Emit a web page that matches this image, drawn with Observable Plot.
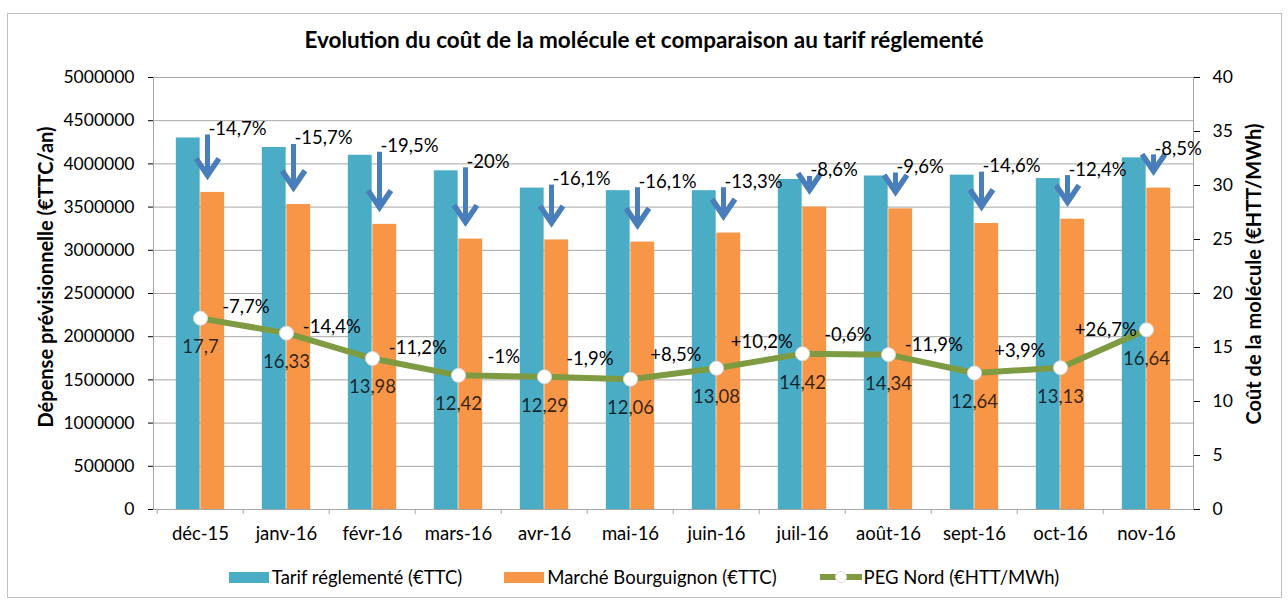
<!DOCTYPE html>
<html>
<head>
<meta charset="utf-8">
<script src="https://cdn.jsdelivr.net/npm/d3@7"></script>
<script src="https://cdn.jsdelivr.net/npm/@observablehq/plot@0.6"></script>
<style>
  html, body { margin: 0; padding: 0; background: #fff; }
  body { width: 1288px; height: 606px; position: relative; overflow: hidden; font-family: Lato, "Open Sans", sans-serif; color: #000; }
  #border { position: absolute; left: 7px; top: 13px; width: 1273px; height: 583px; border: 1px solid #c0c0c0; }
  #title { position: absolute; top: 26px; left: 0; width: 1288px; text-align: center; font-weight: bold; font-size: 22.5px; }
  #chart { position: absolute; left: 0; top: 60px; }
  .ytitle { position: absolute; font-weight: bold; font-size: 20px; white-space: nowrap; transform: translate(-50%, -50%) rotate(-90deg); }
  #legend { position: absolute; top: 566px; left: 0; width: 1288px; display: flex; justify-content: center; align-items: center; font-size: 18.5px; }
  .item { display: flex; align-items: center; margin: 0 21px; }
  .sw { width: 40px; height: 11px; margin-right: 3px; }
</style>
</head>
<body>
<div id="border"></div>
<div id="title">Evolution du coût de la molécule et comparaison au tarif réglementé</div>
<div class="ytitle" style="left:45px; top:277px;">Dépense prévisionnelle (€TTC/an)</div>
<div class="ytitle" style="left:1253px; top:274px;">Coût de la molécule (€HTT/MWh)</div>
<div id="chart"></div>
<div id="legend"></div>
<script>
const months = ["déc-15","janv-16","févr-16","mars-16","avr-16","mai-16","juin-16","juil-16","août-16","sept-16","oct-16","nov-16"];
const tarif = [4300000, 4190000, 4100000, 3920000, 3720000, 3690000, 3690000, 3820000, 3860000, 3870000, 3830000, 4070000];
const marche = [3670000, 3530000, 3300000, 3130000, 3120000, 3095000, 3200000, 3500000, 3480000, 3310000, 3360000, 3720000];
const ecart = ["-14,7%","-15,7%","-19,5%","-20%","-16,1%","-16,1%","-13,3%","-8,6%","-9,6%","-14,6%","-12,4%","-8,5%"];
const peg = [17.7, 16.33, 13.98, 12.42, 12.29, 12.06, 13.08, 14.42, 14.34, 12.64, 13.13, 16.64];
const pegLabels = ["17,7","16,33","13,98","12,42","12,29","12,06","13,08","14,42","14,34","12,64","13,13","16,64"];
const pegChange = ["-7,7%","-14,4%","-11,2%","-1%","-1,9%","+8,5%","+10,2%","-0,6%","-11,9%","+3,9%","+26,7%"];
const leftTicks = [0, 500000, 1000000, 1500000, 2000000, 2500000, 3000000, 3500000, 4000000, 4500000, 5000000];
const rightTicks = [0, 5, 10, 15, 20, 25, 30, 35, 40];
const legendLabels = ["Tarif réglementé (€TTC)", "Marché Bourguignon (€TTC)", "PEG Nord (€HTT/MWh)"];

const leftMax = 5000000, rightMax = 40;
const K = leftMax / rightMax;

const colBlue = "#4BACC6", colOrange = "#F79646", colGreen = "#7E9B42", colArrow = "#4A7EBB";

const W = 1288, H = 500, mL = 153, mR = 95, mT = 17, mB = 51;
const bw = (W - mL - mR) / months.length;
const barW = 24.5;

const rows = months.map((m, i) => ({m, tarif: tarif[i], marche: marche[i], ecart: ecart[i], peg: peg[i] * K, pegLabel: pegLabels[i]}));
const changes = pegChange.map((t, i) => ({m: months[i], y: (peg[i] + peg[i + 1]) / 2 * K, t}));

const chevron = {
  draw(ctx, size) {
    const r = Math.sqrt(size / Math.PI);
    ctx.moveTo(-0.85 * r, -1.25 * r);
    ctx.lineTo(0, 0);
    ctx.lineTo(0.85 * r, -1.25 * r);
  }
};

const chart = Plot.plot({
  width: W, height: H,
  marginLeft: mL, marginRight: mR, marginTop: mT, marginBottom: mB,
  style: {fontFamily: "Lato, 'Open Sans', sans-serif", fontSize: "17px", color: "#000", background: "transparent"},
  x: {type: "band", domain: months, padding: 0, label: null},
  y: {domain: [0, leftMax], nice: false, label: null},
  marks: [
    Plot.gridY(leftTicks, {stroke: "#a6a6a6", strokeOpacity: 1}),
    Plot.barY(rows, {x: "m", y: "tarif", fill: colBlue, insetLeft: bw / 2 - barW, insetRight: bw / 2}),
    Plot.barY(rows, {x: "m", y: "marche", fill: colOrange, insetLeft: bw / 2, insetRight: bw / 2 - barW}),
    Plot.frame({stroke: "#a6a6a6"}),
    Plot.axisY({anchor: "left", ticks: leftTicks, tickFormat: d => String(d), tickSize: 5, tickPadding: 14, label: null, fontSize: 17.5}),
    Plot.axisY({anchor: "right", ticks: rightTicks.map(v => v * K), tickFormat: d => String(Math.round(d / K)), tickSize: 6, tickPadding: 13, label: null, fontSize: 17.5}),
    Plot.axisX({anchor: "bottom", tickSize: 5, tickFormat: () => "", dx: -bw / 2, label: null, stroke: "#a6a6a6"}),
    Plot.axisX({anchor: "bottom", tickSize: 0, tickPadding: 17, label: null, fontSize: 18.5}),
    Plot.ruleX(rows, {x: "m", y1: "tarif", y2: "marche", dx: 7, insetTop: -3, insetBottom: 17, stroke: colArrow, strokeWidth: 5}),
    Plot.dot(rows, {x: "m", y: "marche", dx: 7, dy: -17, symbol: chevron, r: 13.5, fill: "none", stroke: colArrow, strokeWidth: 5.5, strokeLinejoin: "miter"}),
    Plot.text(rows, {x: "m", y: "tarif", text: "ecart", dx: 8, dy: -9, textAnchor: "start", fontSize: 18.5, fill: "#000"}),
    Plot.line(rows, {x: "m", y: "peg", stroke: colGreen, strokeWidth: 6}),
    Plot.dot(rows, {x: "m", y: "peg", r: 7, fill: "#fff", stroke: "#dcdcdc", strokeWidth: 1}),
    Plot.text(rows, {x: "m", y: "peg", text: "pegLabel", dy: 29, fontSize: 18.5, fill: "#000", fillOpacity: 0.78}),
    Plot.text(changes, {x: "m", y: "y", text: "t", dx: bw / 2 + 2, dy: -19, fontSize: 18.5, fill: "#000"})
  ]
});
document.getElementById("chart").appendChild(chart);

const legend = document.getElementById("legend");
[colBlue, colOrange, null].forEach((c, i) => {
  const it = document.createElement("div");
  it.className = "item";
  if (c) {
    it.innerHTML = `<div class="sw" style="background:${c}"></div><span>${legendLabels[i]}</span>`;
  } else {
    it.innerHTML = `<svg width="44" height="14" style="margin-right:1px"><line x1="1" y1="7" x2="43" y2="7" stroke="${colGreen}" stroke-width="6"/><circle cx="22" cy="7" r="5.5" fill="#fff" stroke="#dcdcdc"/></svg><span>${legendLabels[i]}</span>`;
  }
  legend.appendChild(it);
});
</script>
</body>
</html>
